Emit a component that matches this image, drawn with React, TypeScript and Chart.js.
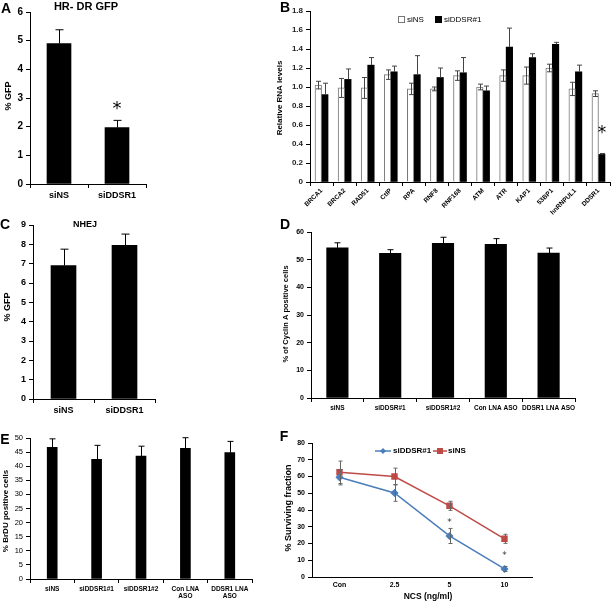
import React, { useEffect, useRef } from "react";
import { Chart, registerables } from "chart.js";
Chart.register(...registerables);

const FONT = "'Liberation Sans', Arial, sans-serif";
Chart.defaults.font.family = FONT;

// ---------- Panel A: HR-DR GFP ----------
const aCategories = ["siNS", "siDDSR1"];
const aValues = [4.9, 1.97];
const aErrors = [0.48, 0.25];

// ---------- Panel B: Relative RNA levels ----------
const bCategories = ["BRCA1", "BRCA2", "RAD51", "CtIP", "RPA", "RNF8", "RNF168", "ATM", "ATR", "KAP1", "53BP1", "hnRNPUL1", "DDSR1"];
const bSiNS = [1.02, 0.99, 0.99, 1.13, 0.98, 0.98, 1.12, 1.0, 1.12, 1.12, 1.2, 0.98, 0.93];
const bSiNSErr = [0.04, 0.1, 0.11, 0.05, 0.06, 0.02, 0.05, 0.03, 0.06, 0.09, 0.04, 0.07, 0.03];
const bSiDDSR = [0.92, 1.08, 1.23, 1.16, 1.13, 1.1, 1.15, 0.96, 1.42, 1.31, 1.45, 1.16, 0.29];
const bSiDDSRErr = [0.12, 0.11, 0.08, 0.06, 0.2, 0.1, 0.16, 0.05, 0.2, 0.04, 0.02, 0.07, 0.01];

// ---------- Panel C: NHEJ ----------
const cCategories = ["siNS", "siDDSR1"];
const cValues = [6.9, 7.95];
const cErrors = [0.85, 0.58];

// ---------- Panel D: Cyclin A ----------
const dCategories = ["siNS", "siDDSR#1", "siDDSR1#2", "Con LNA ASO", "DDSR1 LNA ASO"];
const dValues = [54.3, 52.3, 55.9, 55.5, 52.4];
const dErrors = [1.8, 1.3, 2.2, 2.1, 1.8];

// ---------- Panel E: BrDU ----------
const eCategories = [["siNS"], ["siDDSR1#1"], ["siDDSR1#2"], ["Con LNA", "ASO"], ["DDSR1 LNA", "ASO"]];
const eValues = [46.7, 42.4, 43.6, 46.3, 44.8];
const eErrors = [3.0, 5.0, 3.5, 3.8, 4.0];

// ---------- Panel F: Surviving fraction ----------
const fCategories = ["Con", "2.5", "5", "10"];
const fSiDDSR = [59.5, 50.2, 24.5, 4.8];
const fSiDDSRErr = [4.5, 5, 4.5, 1.5];
const fSiNS = [62.5, 60, 42.5, 22.8];
const fSiNSErr = [6.7, 5, 2.7, 2.7];

const BLUE = "#4a7ebb";
const RED = "#be4b48";

// ---------- plugins ----------
const errorPlugin = {
  id: "errbars",
  afterDatasetsDraw(chart: any) {
    const ctx = chart.ctx;
    const ys = chart.scales.y;
    chart.data.datasets.forEach((ds: any, di: number) => {
      const errs = ds.errors;
      if (!errs) return;
      const meta = chart.getDatasetMeta(di);
      ctx.save();
      ctx.strokeStyle = ds.errColor || "#000";
      ctx.lineWidth = ds.errWidth || 1;
      const cap = ds.errCap || 3;
      meta.data.forEach((el: any, i: number) => {
        const v = ds.data[i];
        const e = errs[i];
        const x = Math.round(el.x) + 0.5;
        const yt = ys.getPixelForValue(v + e);
        const yb = ds.errMode === "both" ? ys.getPixelForValue(v - e) : ys.getPixelForValue(v);
        ctx.beginPath();
        ctx.moveTo(x, yt);
        ctx.lineTo(x, yb);
        ctx.moveTo(x - cap, yt);
        ctx.lineTo(x + cap, yt);
        if (ds.errMode === "both") {
          ctx.moveTo(x - cap, yb);
          ctx.lineTo(x + cap, yb);
        }
        ctx.stroke();
      });
      ctx.restore();
    });
  },
};

const annotPlugin = (items: any[], ox: number, oy: number) => ({
  id: "annot",
  afterDraw(chart: any) {
    const ctx = chart.ctx;
    const xs = chart.scales.x;
    const ys = chart.scales.y;
    for (const it of items) {
      ctx.save();
      if (it.kind === "text" || it.kind === "dtext") {
        let x: number, y: number;
        if (it.kind === "text") {
          x = it.x - ox;
          y = it.y - oy;
        } else {
          x = xs.getPixelForValue(it.i) + (it.dx || 0);
          y = ys.getPixelForValue(it.v) + (it.dy || 0);
        }
        ctx.font = it.font;
        ctx.fillStyle = it.color || "#000";
        ctx.textAlign = it.align || "center";
        ctx.textBaseline = "middle";
        ctx.translate(x, y);
        if (it.rotate) ctx.rotate(it.rotate);
        ctx.fillText(it.text, 0, 0);
      } else if (it.kind === "rect") {
        if (it.fill) {
          ctx.fillStyle = it.fill;
          ctx.fillRect(it.x - ox, it.y - oy, it.w, it.h);
        }
        if (it.stroke) {
          ctx.strokeStyle = it.stroke;
          ctx.lineWidth = 1;
          ctx.strokeRect(it.x - ox + 0.5, it.y - oy + 0.5, it.w - 1, it.h - 1);
        }
      } else if (it.kind === "line") {
        ctx.strokeStyle = it.color;
        ctx.lineWidth = it.width || 1;
        ctx.beginPath();
        ctx.moveTo(it.x1 - ox, it.y1 - oy);
        ctx.lineTo(it.x2 - ox, it.y2 - oy);
        ctx.stroke();
      } else if (it.kind === "diamond") {
        const cx = it.x - ox, cy = it.y - oy, r = it.r;
        ctx.fillStyle = it.color;
        ctx.beginPath();
        ctx.moveTo(cx, cy - r);
        ctx.lineTo(cx + r, cy);
        ctx.lineTo(cx, cy + r);
        ctx.lineTo(cx - r, cy);
        ctx.closePath();
        ctx.fill();
      }
      ctx.restore();
    }
  },
});

// ---------- axis helpers ----------
function parseFont(f: string) {
  const bold = f.includes("bold");
  const m = f.match(/([\d.]+)px/);
  return { size: m ? parseFloat(m[1]) : 10, weight: bold ? "bold" : "normal", family: FONT } as any;
}

function xAxis(font: string, h: number, rot = 0, marks = true, pad = 2) {
  return {
    type: "category",
    offset: true,
    grid: { display: true, drawOnChartArea: false, drawTicks: marks, tickLength: 4, color: "#000", offset: true },
    border: { display: true, color: "#000" },
    ticks: { font: parseFont(font), color: "#000", padding: pad, autoSkip: false, maxRotation: rot, minRotation: rot },
    afterFit: (s: any) => {
      s.height = h;
    },
  };
}

function yAxis(min: number, max: number, step: number, font: string, w: number, color = "#000") {
  return {
    min,
    max,
    ticks: { stepSize: step, font: parseFont(font), color, padding: 3 },
    grid: { display: true, drawOnChartArea: false, tickLength: 4, color: "#000" },
    border: { display: true, color: "#000" },
    afterFit: (s: any) => {
      s.width = w;
    },
  };
}

const F = (s: string) => `${s} ${FONT}`;

// ---------- chart box ----------
type BoxProps = { left: number; top: number; width: number; height: number; make: () => any };
function ChartBox({ left, top, width, height, make }: BoxProps) {
  const ref = useRef<HTMLCanvasElement | null>(null);
  useEffect(() => {
    const chart = new Chart(ref.current as HTMLCanvasElement, make());
    return () => chart.destroy();
  }, []);
  return (
    <canvas
      ref={ref}
      width={width}
      height={height}
      style={{ position: "absolute", left, top, width, height, display: "block" }}
    />
  );
}

const baseOpts = (padding: any, scales: any) => ({
  responsive: false,
  animation: false,
  devicePixelRatio: 1,
  layout: { padding },
  plugins: { legend: { display: false }, tooltip: { enabled: false }, title: { display: false } },
  scales,
});

// ---------- configs ----------
const makeA = () => {
  const ox = 0, oy = 0;
  return {
    type: "bar",
    data: {
      labels: aCategories,
      datasets: [
        { data: aValues, backgroundColor: "#000", barThickness: 24, errors: aErrors, errCap: 4, errColor: "#000" },
      ],
    },
    options: baseOpts(
      { left: 10, right: 54, top: 12, bottom: 0 },
      { x: xAxis(F("bold 9px"), 16), y: yAxis(0, 6, 1, F("bold 10px"), 20) }
    ),
    plugins: [
      errorPlugin,
      annotPlugin(
        [
          { kind: "text", x: 6, y: 9, text: "A", font: F("bold 14px") },
          { kind: "text", x: 86, y: 7, text: "HR- DR GFP", font: F("bold 11px") },
          { kind: "text", x: 9, y: 96, text: "% GFP", font: F("bold 9px"), rotate: -Math.PI / 2 },
          { kind: "dtext", i: 1, v: 2.76, dy: 4, text: "*", font: `18px 'DejaVu Sans'` },
        ],
        ox,
        oy
      ),
    ],
  };
};

const makeB = () => {
  const ox = 200, oy = 0;
  return {
    type: "bar",
    data: {
      labels: bCategories,
      datasets: [
        {
          data: bSiNS,
          backgroundColor: "#fff",
          borderColor: "#777",
          borderWidth: 1,
          barThickness: 6.5,
          errors: bSiNSErr,
          errMode: "both",
          errCap: 2.5,
          errColor: "#444",
        },
        {
          data: bSiDDSR,
          backgroundColor: "#000",
          barThickness: 6.5,
          errors: bSiDDSRErr,
          errMode: "up",
          errCap: 2.5,
          errColor: "#444",
        },
      ],
    },
    options: baseOpts(
      { left: 90, right: 2, top: 11, bottom: 0 },
      { x: xAxis(F("bold 6.5px"), 34, 45, true, 1), y: yAxis(0, 1.8, 0.2, F("bold 8px"), 20, "#222") }
    ),
    plugins: [
      errorPlugin,
      annotPlugin(
        [
          { kind: "text", x: 285, y: 8, text: "B", font: F("bold 14px") },
          { kind: "text", x: 280, y: 98, text: "Relative RNA levels", font: F("bold 8px"), rotate: -Math.PI / 2 },
          { kind: "rect", x: 398, y: 16, w: 7, h: 7, fill: "#fff", stroke: "#777" },
          { kind: "text", x: 407, y: 19.5, text: "siNS", font: F("8px"), align: "left" },
          { kind: "rect", x: 435, y: 16, w: 7, h: 7, fill: "#000" },
          { kind: "text", x: 444, y: 19.5, text: "siDDSR#1", font: F("8px"), align: "left" },
          { kind: "dtext", i: 12, v: 0.55, dx: 3.5, dy: 4, text: "*", font: `17px 'DejaVu Sans'` },
        ],
        ox,
        oy
      ),
    ],
  };
};

const makeC = () => {
  const ox = 0, oy = 200;
  return {
    type: "bar",
    data: {
      labels: cCategories,
      datasets: [{ data: cValues, backgroundColor: "#000", barThickness: 25, errors: cErrors, errCap: 4 }],
    },
    options: baseOpts(
      { left: 13, right: 45, top: 25, bottom: 0 },
      { x: xAxis(F("bold 9px"), 21), y: yAxis(0, 9, 1, F("bold 9px"), 20) }
    ),
    plugins: [
      errorPlugin,
      annotPlugin(
        [
          { kind: "text", x: 5, y: 225, text: "C", font: F("bold 14px") },
          { kind: "text", x: 85, y: 225, text: "NHEJ", font: F("bold 9px") },
          { kind: "text", x: 8, y: 307, text: "% GFP", font: F("bold 9px"), rotate: -Math.PI / 2 },
        ],
        ox,
        oy
      ),
    ],
  };
};

const makeD = () => {
  const ox = 200, oy = 200;
  return {
    type: "bar",
    data: {
      labels: dCategories,
      datasets: [{ data: dValues, backgroundColor: "#000", barThickness: 21.5, errors: dErrors, errCap: 3 }],
    },
    options: baseOpts(
      { left: 91, right: 37, top: 32, bottom: 0 },
      { x: xAxis(F("bold 6.5px"), 22), y: yAxis(0, 60, 10, F("bold 7px"), 20) }
    ),
    plugins: [
      errorPlugin,
      annotPlugin(
        [
          { kind: "text", x: 285, y: 225, text: "D", font: F("bold 14px") },
          { kind: "text", x: 286, y: 314, text: "% of Cyclin A positive cells", font: F("bold 7.5px"), rotate: -Math.PI / 2 },
        ],
        ox,
        oy
      ),
    ],
  };
};

const makeE = () => {
  const ox = 0, oy = 420;
  return {
    type: "bar",
    data: {
      labels: eCategories,
      datasets: [{ data: eValues, backgroundColor: "#000", barThickness: 10, errors: eErrors, errCap: 3 }],
    },
    options: baseOpts(
      { left: 10, right: 18, top: 18, bottom: 0 },
      { x: xAxis(F("bold 6.5px"), 23), y: yAxis(0, 50, 5, F("7.5px"), 20) }
    ),
    plugins: [
      errorPlugin,
      annotPlugin(
        [
          { kind: "text", x: 5, y: 440, text: "E", font: F("bold 14px") },
          { kind: "text", x: 6, y: 511, text: "% BrDU positive cells", font: F("bold 8px"), rotate: -Math.PI / 2 },
        ],
        ox,
        oy
      ),
    ],
  };
};

const makeF = () => {
  const ox = 200, oy = 420;
  return {
    type: "line",
    data: {
      labels: fCategories,
      datasets: [
        {
          data: fSiDDSR,
          borderColor: BLUE,
          backgroundColor: BLUE,
          borderWidth: 1.5,
          pointStyle: "rectRot",
          pointRadius: 3,
          errors: fSiDDSRErr,
          errMode: "both",
          errCap: 2,
          errColor: "#666",
        },
        {
          data: fSiNS,
          borderColor: RED,
          backgroundColor: RED,
          borderWidth: 1.5,
          pointStyle: "rect",
          pointRadius: 3.5,
          errors: fSiNSErr,
          errMode: "both",
          errCap: 2,
          errColor: "#666",
        },
      ],
    },
    options: baseOpts(
      { left: 92, right: 80, top: 23, bottom: 0 },
      { x: xAxis(F("bold 7px"), 25, 0, false, 4), y: yAxis(0, 80, 10, F("bold 7px"), 20) }
    ),
    plugins: [
      errorPlugin,
      annotPlugin(
        [
          { kind: "text", x: 284, y: 437, text: "F", font: F("bold 14px") },
          { kind: "text", x: 289, y: 508, text: "% Surviving fraction", font: F("bold 9px"), rotate: -Math.PI / 2 },
          { kind: "text", x: 428, y: 597, text: "NCS (ng/ml)", font: F("bold 8.5px") },
          { kind: "line", x1: 375, y1: 451, x2: 391, y2: 451, color: BLUE, width: 1.5 },
          { kind: "diamond", x: 383, y: 451, r: 3, color: BLUE },
          { kind: "text", x: 393, y: 451, text: "siDDSR#1", font: F("bold 8px"), align: "left" },
          { kind: "line", x1: 433, y1: 451, x2: 447, y2: 451, color: RED, width: 1.5 },
          { kind: "rect", x: 437, y: 448, w: 6, h: 6, fill: RED },
          { kind: "text", x: 448, y: 451, text: "siNS", font: F("bold 8px"), align: "left" },
          { kind: "dtext", i: 2, v: 33.5, dy: 2, text: "*", font: `9px 'DejaVu Sans'`, color: "#333" },
          { kind: "dtext", i: 3, v: 13.7, dy: 2, text: "*", font: `9px 'DejaVu Sans'`, color: "#333" },
        ],
        ox,
        oy
      ),
    ],
  };
};

export default function App() {
  return (
    <div style={{ position: "absolute", left: 0, top: 0, width: 612, height: 602, background: "#fff", overflow: "hidden" }}>
      <ChartBox left={0} top={0} width={200} height={200} make={makeA} />
      <ChartBox left={200} top={0} width={412} height={216} make={makeB} />
      <ChartBox left={0} top={200} width={200} height={220} make={makeC} />
      <ChartBox left={200} top={200} width={412} height={220} make={makeD} />
      <ChartBox left={0} top={420} width={270} height={182} make={makeE} />
      <ChartBox left={200} top={420} width={412} height={182} make={makeF} />
    </div>
  );
}
